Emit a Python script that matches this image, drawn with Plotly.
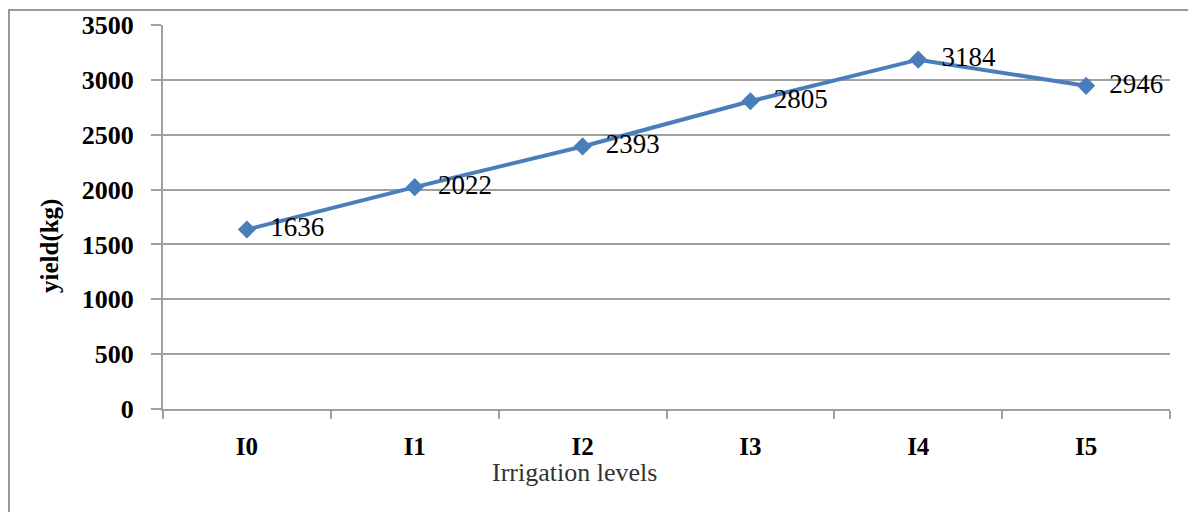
import plotly.graph_objects as go

categories = ["I0", "I1", "I2", "I3", "I4", "I5"]
yield_kg = [1636, 2022, 2393, 2805, 3184, 2946]
y_ticks = [0, 500, 1000, 1500, 2000, 2500, 3000, 3500]

OFF = 8  # browser body margin
W, H = 1196 - OFF, 512 - OFF
# plot area in screen px: x 163..1170, y 25..409
L = 163 - OFF
T = 25 - OFF
R = W - (1170 - OFF)
B = H - (409 - OFF)
pw, ph = W - L - R, H - T - B

def px_x(x):  # screen px -> paper
    return (x - OFF - L) / pw

def px_y(y):
    return (H - B - (y - OFF)) / ph

fig = go.Figure()
fig.add_trace(go.Scatter(
    x=categories, y=yield_kg,
    mode="lines+markers+text",
    text=["  " + str(v) for v in yield_kg],
    textposition="middle right",
    textfont=dict(family="Liberation Serif", size=27, color="#000000"),
    line=dict(color="#4A7EBB", width=4),
    marker=dict(symbol="diamond", size=14, color="#4A7EBB"),
    cliponaxis=False,
    showlegend=False,
))

axis_grey = "#A0A0A0"
fig.update_layout(
    width=W, height=H,
    margin=dict(l=L, r=R, t=T, b=B, autoexpand=False),
    plot_bgcolor="white", paper_bgcolor="white",
    xaxis=dict(
        type="category",
        tickson="boundaries",
        ticks="outside", ticklen=8, tickcolor=axis_grey, tickwidth=2,
        showline=True, linecolor=axis_grey, linewidth=2,
        showgrid=False,
        tickfont=dict(family="Liberation Serif", size=25, color="#000000", weight="bold"),
        ticklabelstandoff=14,
        range=[-0.5, 5.5],
        automargin=False,
    ),
    yaxis=dict(
        range=[0, 3500],
        tickvals=y_ticks,
        ticks="outside", ticklen=10, tickcolor=axis_grey, tickwidth=2,
        showline=True, linecolor=axis_grey, linewidth=2,
        showgrid=True, gridcolor=axis_grey, gridwidth=2,
        zeroline=False,
        tickfont=dict(family="Liberation Serif", size=26, color="#000000", weight="bold"),
        ticklabelstandoff=12,
        automargin=False,
    ),
    annotations=[
        dict(text="Irrigation levels", xref="paper", yref="paper",
             x=px_x(574), y=px_y(472), showarrow=False,
             xanchor="center", yanchor="middle",
             font=dict(family="Liberation Serif", size=26, color="#333333")),
        dict(text="yield(kg)", xref="paper", yref="paper",
             x=px_x(50), y=px_y(246), showarrow=False, textangle=-90,
             xanchor="center", yanchor="middle",
             font=dict(family="Liberation Serif", size=25, color="#000000", weight="bold")),
    ],
    shapes=[
        dict(type="rect", xref="paper", yref="paper",
             x0=px_x(9), x1=px_x(1240), y0=px_y(560), y1=px_y(10),
             line=dict(color="#999999", width=2), layer="below"),
    ],
)

fig.write_html("out.html")
